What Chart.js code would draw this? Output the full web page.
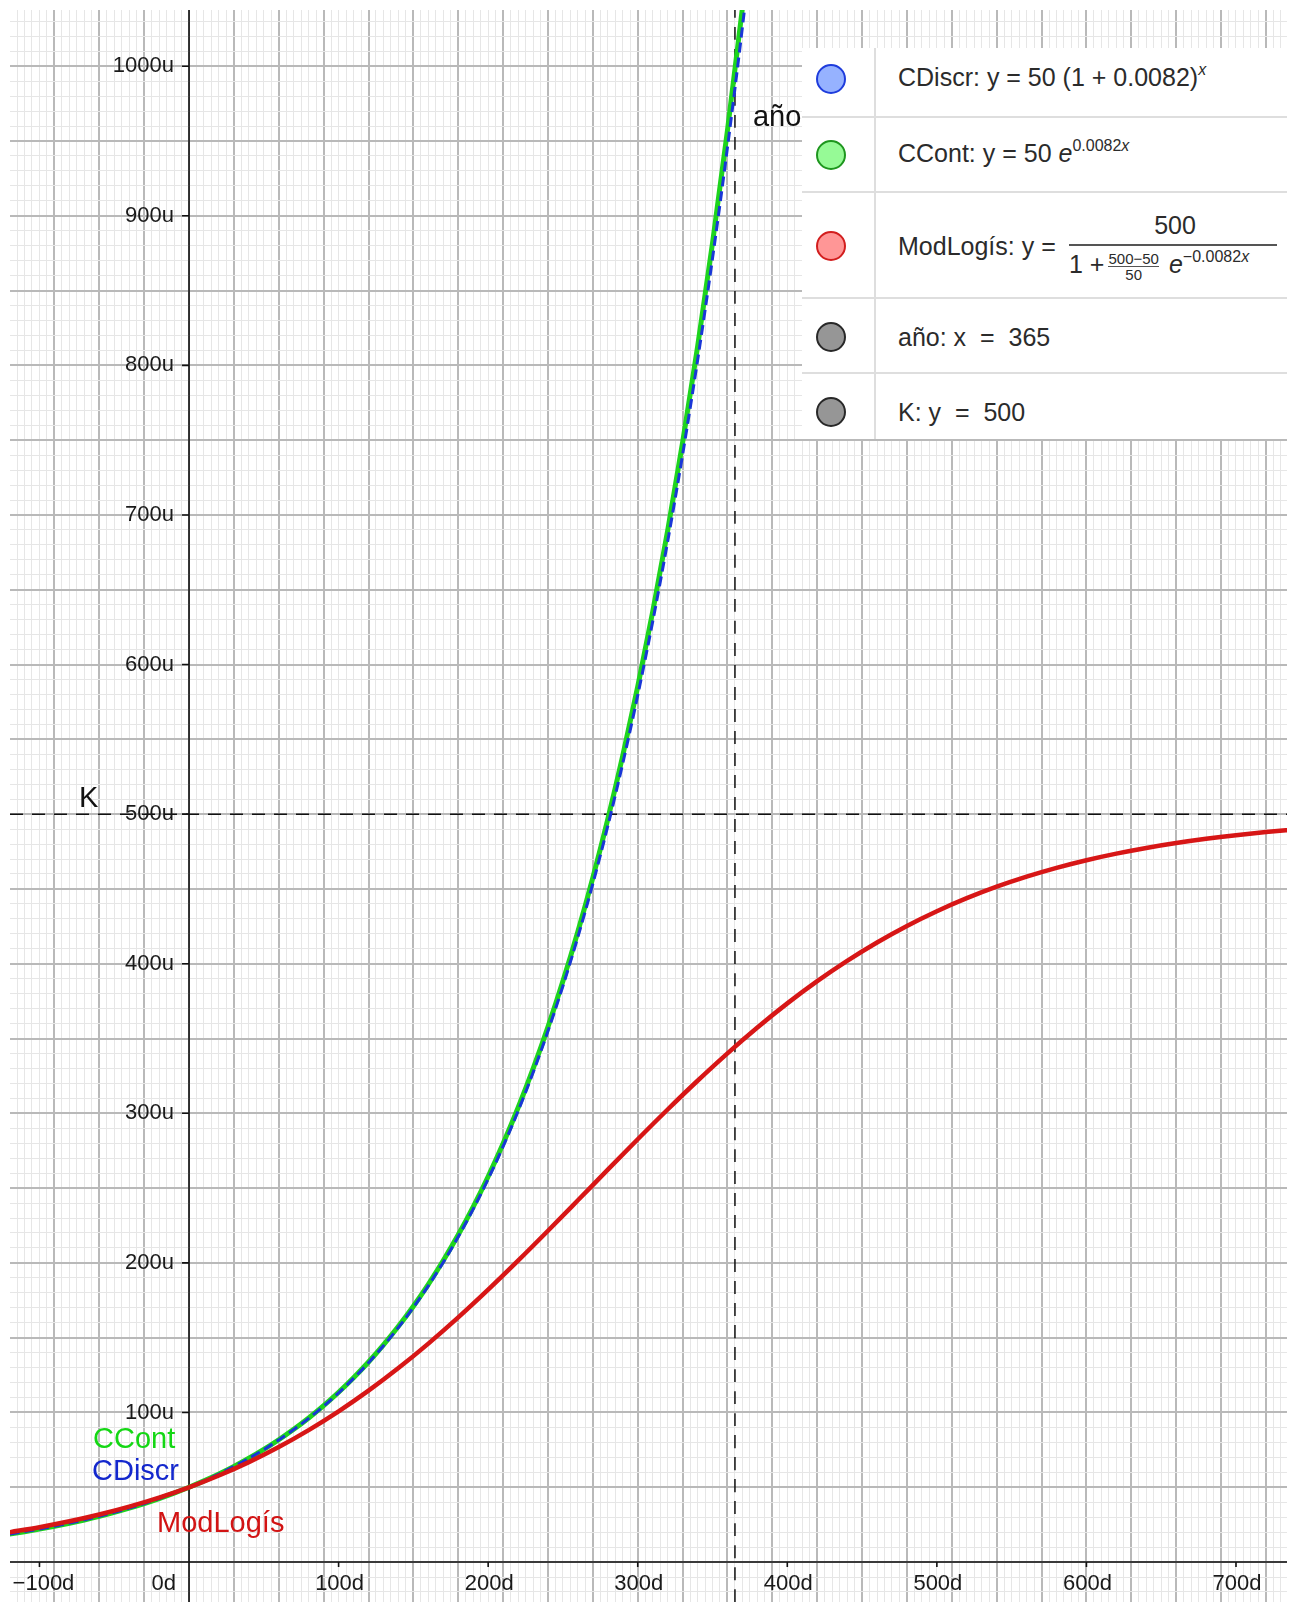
<!DOCTYPE html>
<html lang="es">
<head>
<meta charset="utf-8">
<title>Crecimiento discreto, continuo y logístico</title>
<script src="https://cdn.jsdelivr.net/npm/chart.js@4.4.1/dist/chart.umd.min.js"></script>
<style>
  html, body { margin: 0; padding: 0; background: #fff; }
  #lienzo { position: relative; width: 1296px; height: 1602px; overflow: hidden; }
  #grafico { display: block; }

  /* panel de álgebra */
  #leyenda { position: absolute; left: 802px; top: 48px; width: 485px; height: 391px; background: #fff;
             font-family: "Liberation Sans", Arial, sans-serif; font-size: 25px; color: #2b2b2b; }
  .sep-v { position: absolute; left: 72px; top: 0; width: 2px; height: 391px; background: #dedede; }
  .sep-h { position: absolute; left: 0; width: 485px; height: 2px; background: #dedede; }
  .punto { position: absolute; left: 14px; width: 26px; height: 26px; border-radius: 50%; border: 2px solid; }
  .azul  { background: rgb(150,178,255); border-color: rgb(30,60,220); }
  .verde { background: rgb(150,250,150); border-color: rgb(30,150,30); }
  .rojo  { background: rgb(255,150,150); border-color: rgb(210,30,30); }
  .gris  { background: rgb(150,150,150); border-color: rgb(40,40,40); }
  .txt { position: absolute; left: 96px; white-space: nowrap; line-height: 30px; transform: translateY(-50%); }
  .sup { font-size: 16px; position: relative; top: -11px; }
  .frac { position: absolute; left: 267px; top: 158px; width: 208px; white-space: nowrap; }
  .num { height: 38px; line-height: 38px; text-align: center; padding-left: 4px; }
  .barra { height: 2px; background: #555; }
  .den { height: 36px; line-height: 36px; }
  .mini { display: inline-block; vertical-align: middle; font-size: 15px; line-height: 15px; text-align: center; margin: 0 10px 0 4px; }
  .mini .b { border-top: 1px solid #555; }
</style>
</head>
<body>
<div id="lienzo">
  <canvas id="grafico" width="1296" height="1602"></canvas>

  <div id="leyenda">
    <div class="sep-v"></div>
    <div class="sep-h" style="top:68px"></div>
    <div class="sep-h" style="top:143px"></div>
    <div class="sep-h" style="top:249px"></div>
    <div class="sep-h" style="top:324px"></div>

    <span class="punto azul" style="top:16px"></span>
    <div class="txt" style="top:31px">CDiscr: y = 50 (1 + 0.0082)<span class="sup"><i>x</i></span></div>

    <span class="punto verde" style="top:92px"></span>
    <div class="txt" style="top:107px">CCont: y = 50 <i>e</i><span class="sup">0.0082<i>x</i></span></div>

    <span class="punto rojo" style="top:183px"></span>
    <div class="txt" style="top:198px">ModLogís: y&nbsp;=</div>
    <div class="frac">
      <div class="num">500</div>
      <div class="barra"></div>
      <div class="den">1 +<span class="mini"><div>500−50</div><div class="b">50</div></span><i>e</i><span class="sup">−0.0082<i>x</i></span></div>
    </div>

    <span class="punto gris" style="top:274px"></span>
    <div class="txt" style="top:289px">año: x &nbsp;= &nbsp;365</div>

    <span class="punto gris" style="top:349px"></span>
    <div class="txt" style="top:364px">K: y &nbsp;= &nbsp;500</div>
  </div>
</div>

<script>
// días y valores
const DIAS_EXP = [-120, -110, -100, -90, -80, -70, -60, -50, -40, -30, -20, -10,
  0, 10, 20, 30, 40, 50, 60, 70, 80, 90, 100, 110, 120, 130, 140, 150, 160, 170, 180, 190,
  200, 210, 220, 230, 240, 250, 260, 270, 280, 290, 300, 310, 320, 330, 340, 350, 360, 370, 380];

const CCONT = [18.69, 20.29, 22.02, 23.91, 25.94, 28.16, 30.57, 33.18, 36.02, 39.10, 42.44, 46.06,
  50, 54.27, 58.91, 63.94, 69.41, 75.34, 81.78, 88.77, 96.36, 104.59, 113.52,
  123.22, 133.76, 145.19, 157.59, 171.06, 185.68, 201.55, 218.77, 237.46, 257.76,
  279.79, 303.70, 329.65, 357.82, 388.40, 421.59, 457.62, 496.72, 539.17, 585.24,
  635.26, 689.55, 748.47, 812.42, 881.83, 957.19, 1038.98, 1127.78];

const CDISCR = [18.77, 20.36, 22.09, 23.98, 26.01, 28.23, 30.63, 33.24, 36.07, 39.14, 42.47, 46.08,
  50, 54.25, 58.87, 63.88, 69.32, 75.21, 81.62, 88.56, 96.10, 104.28, 113.14,
  122.77, 133.23, 144.56, 156.85, 170.20, 184.69, 200.41, 217.46, 235.96, 256.04,
  277.83, 301.47, 327.12, 354.96, 385.16, 417.94, 453.51, 492.09, 533.97, 579.40,
  628.71, 682.21, 740.25, 803.23, 871.57, 945.73, 1026.20, 1113.54];

const DIAS_LOG = [-120, -100, -80, -60, -40, -20, 0, 20, 40, 60, 80, 100, 120, 140, 160, 180,
  200, 220, 240, 260, 280, 300, 320, 340, 360, 380, 400, 420, 440, 460, 480, 500,
  520, 540, 560, 580, 600, 620, 640, 660, 680, 700, 720, 740];

const MODLOGIS = [19.94, 23.33, 27.26, 31.81, 37.06, 43.09, 50, 57.88, 66.82, 76.89, 88.18,
  100.73, 114.57, 129.68, 146.05, 163.56, 182.10, 201.47, 221.47, 241.85, 262.34,
  282.66, 302.55, 321.77, 340.11, 357.39, 373.51, 388.37, 401.94, 414.23, 425.27,
  435.10, 443.81, 451.49, 458.21, 464.08, 469.19, 473.60, 477.41, 480.69, 483.52,
  485.94, 488.02, 489.79];

const K = 500;          // capacidad de carga
const ANIO = 365;       // un año en días

const X_TICKS = [-100, 0, 100, 200, 300, 400, 500, 600, 700];
const Y_TICKS = [100, 200, 300, 400, 500, 600, 700, 800, 900, 1000];

// ventana visible
const X_MIN = -119.7, X_MAX = 734.1;
const Y_MIN = -26.7, Y_MAX = 1037.6;

const VERDE = 'rgb(30,212,30)';
const AZUL = 'rgb(25,55,215)';
const ROJO = 'rgb(215,22,22)';
const MAYOR = 'rgb(185,185,185)';
const MENOR = 'rgb(230,230,230)';
const FUENTE = '"Liberation Sans", Arial, sans-serif';

const pares = (xs, ys) => xs.map((v, i) => ({ x: v, y: ys[i] }));

// ejes con marcas y rótulos al estilo de la vista gráfica
const ejes = {
  id: 'ejes',
  beforeDatasetsDraw(chart) {
    const { ctx, chartArea: a, scales: { x, y } } = chart;
    const x0 = x.getPixelForValue(0), y0 = y.getPixelForValue(0);
    ctx.save();
    ctx.strokeStyle = '#111';
    ctx.lineWidth = 1.6;
    ctx.beginPath();
    ctx.moveTo(a.left, y0); ctx.lineTo(a.right, y0);
    ctx.moveTo(x0, a.top); ctx.lineTo(x0, a.bottom);
    X_TICKS.forEach(v => {
      if (v === 0) return;
      const px = x.getPixelForValue(v);
      ctx.moveTo(px, y0); ctx.lineTo(px, y0 + 5);
    });
    Y_TICKS.forEach(v => {
      const py = y.getPixelForValue(v);
      ctx.moveTo(x0 - 7, py); ctx.lineTo(x0, py);
    });
    ctx.stroke();
    ctx.restore();
  },
  afterDatasetsDraw(chart) {
    const { ctx, scales: { x, y } } = chart;
    const x0 = x.getPixelForValue(0), y0 = y.getPixelForValue(0);
    ctx.save();
    ctx.fillStyle = '#1a1a1a';
    ctx.font = '22px ' + FUENTE;
    ctx.textBaseline = 'middle';
    X_TICKS.forEach(v => {
      const px = x.getPixelForValue(v);
      if (v === 0) {
        ctx.textAlign = 'right';
        ctx.fillText('0d', x0 - 13, y0 + 22);
      } else {
        ctx.textAlign = 'center';
        const txt = (v < 0 ? '−' + (-v) : v) + 'd';
        ctx.fillText(txt, px + (v < 0 ? 4 : 1), y0 + 22);
      }
    });
    ctx.textAlign = 'right';
    Y_TICKS.forEach(v => {
      ctx.fillText(v + 'u', x0 - 15, y.getPixelForValue(v));
    });

    // nombres de los objetos
    ctx.font = '29px ' + FUENTE;
    ctx.textAlign = 'left';
    ctx.textBaseline = 'alphabetic';
    ctx.fillStyle = '#111';
    ctx.fillText('K', x0 - 110, y.getPixelForValue(K) - 7);
    ctx.fillText('año', x.getPixelForValue(ANIO) + 18, 126);
    ctx.fillStyle = 'rgb(20,215,20)';
    ctx.fillText('CCont', x0 - 96, y0 - 114);
    ctx.fillStyle = 'rgb(20,40,205)';
    ctx.fillText('CDiscr', x0 - 97, y0 - 82);
    ctx.fillStyle = 'rgb(210,20,20)';
    ctx.fillText('ModLogís', x0 - 32, y0 - 30);
    ctx.restore();
  }
};

const curva = (color, ancho, orden, extra) => Object.assign({
  borderColor: color, borderWidth: ancho, order: orden,
  pointRadius: 0, fill: false, cubicInterpolationMode: 'monotone'
}, extra);

new Chart(document.getElementById('grafico'), {
  type: 'line',
  data: {
    datasets: [
      curva(ROJO, 4.5, 0, { label: 'ModLogís', data: pares(DIAS_LOG, MODLOGIS) }),
      curva(AZUL, 3, 1, { label: 'CDiscr', data: pares(DIAS_EXP, CDISCR), borderDash: [10, 5] }),
      curva(VERDE, 5, 2, { label: 'CCont', data: pares(DIAS_EXP, CCONT) }),
      curva('#111', 1.5, 3, { label: 'K', borderDash: [13, 9], tension: 0,
        data: [{ x: X_MIN, y: K }, { x: X_MAX, y: K }] }),
      curva('#111', 1.5, 4, { label: 'año', borderDash: [13, 9], tension: 0,
        data: [{ x: ANIO, y: Y_MIN }, { x: ANIO, y: Y_MAX }] })
    ]
  },
  options: {
    responsive: false,
    animation: false,
    devicePixelRatio: 1,
    layout: { padding: { left: 10, top: 10, right: 9, bottom: 0 } },
    plugins: { legend: { display: false }, tooltip: { enabled: false } },
    scales: {
      x: {
        type: 'linear', min: X_MIN, max: X_MAX,
        afterFit: s => { s.height = 0; },
        border: { display: false },
        ticks: { display: false, stepSize: 5, includeBounds: false, autoSkip: false },
        grid: {
          drawTicks: false,
          color: c => (c.tick && c.tick.value % 30 === 0) ? MAYOR : MENOR,
          lineWidth: c => (c.tick && c.tick.value % 30 === 0) ? 2 : 1
        }
      },
      y: {
        type: 'linear', min: Y_MIN, max: Y_MAX,
        afterFit: s => { s.width = 0; },
        border: { display: false },
        ticks: { display: false, stepSize: 10, includeBounds: false, autoSkip: false },
        grid: {
          drawTicks: false,
          color: c => (c.tick && c.tick.value % 50 === 0) ? MAYOR : MENOR,
          lineWidth: c => (c.tick && c.tick.value % 50 === 0) ? 2 : 1
        }
      }
    }
  },
  plugins: [ejes]
});
</script>
</body>
</html>
